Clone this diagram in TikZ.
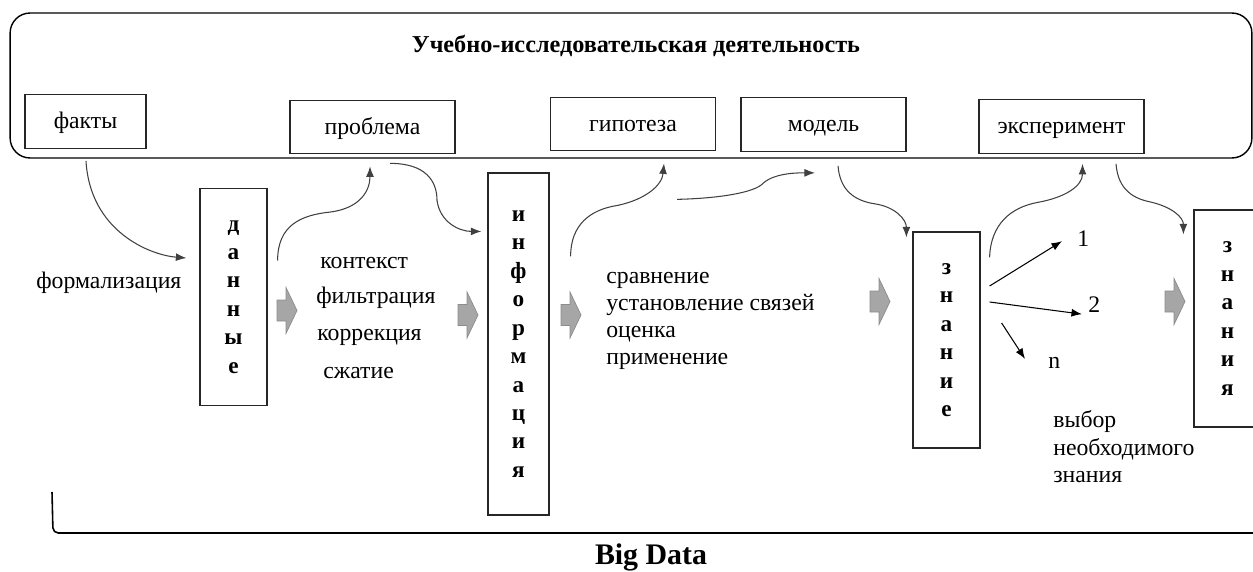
\documentclass[tikz,border=0pt]{standalone}
\usepackage{fontspec}
\setmainfont{Liberation Serif}
\usetikzlibrary{arrows.meta,calc}
\tikzset{
  ramka/.style   = {rectangle, draw=black!85, line width=0.7pt, minimum width=3.3cm, minimum height=1.07cm, text height=2ex, text depth=0.25ex, font=\fontsize{13.5}{16}\selectfont},
  stolb/.style   = {rectangle, draw=black!85, line width=0.7pt, minimum width=1.34cm, align=center, font=\bfseries\fontsize{13.2}{16.2}\selectfont},
  slovo/.style   = {anchor=base west, inner sep=0, font=\fontsize{13.5}{16}\selectfont},
  perehod/.pic   = {\filldraw[fill=black!35, draw=black!45, line width=0.4pt] (-10,-10.5) -- (-1,-10.5) -- (-1,-23) -- (10,0) -- (-1,23) -- (-1,10.5) -- (-10,10.5) -- cycle;},
  duga/.style    = {draw=black!75, line width=0.6pt, -{Latex[length=6pt,width=4.5pt]}},
  luch/.style    = {draw=black, line width=0.6pt, -{Latex[length=6pt,width=4.5pt]}}
}

\begin{document}
\begin{tikzpicture}[x=0.02cm, y=-0.02cm]
  \useasboundingbox (0,0) rectangle (1253,571);
  \node[draw, line width=0.8pt, rounded corners=0.4cm, minimum width=24.84cm, minimum height=2.9cm] (ud) at (631,85.5) {};
  \node[anchor=base, font=\bfseries\fontsize{13.8}{16}\selectfont] (zag) at (636,53) {Учебно-исследовательская деятельность};
  \node[ramka, minimum width=2.42cm] (fk) at (85.5,121.5) {факты};
  \node[ramka] (pr) at (372.5,127) {проблема};
  \node[ramka] (gp) at (633,124) {гипотеза};
  \node[ramka] (md) at (823.5,124.5) {модель};
  \node[ramka] (ek) at (1061.5,126.5) {эксперимент};

  \node[stolb, minimum height=4.34cm] (dn) at (233.5,297) {д\\а\\н\\н\\ы\\е};
  \node[stolb, minimum width=1.22cm, minimum height=6.84cm] (inf) at (518.5,344) {и\\н\\ф\\о\\р\\м\\а\\ц\\и\\я};
  \node[stolb, minimum height=4.32cm] (zn) at (946.5,340) {з\\н\\а\\н\\и\\е};
  \node[stolb, minimum height=4.34cm] (zns) at (1227.5,318.5) {з\\н\\а\\н\\и\\я};

  \pic (p1) at (287,310.5) {perehod};
  \pic (p2) at (468,315) {perehod};
  \pic (p3) at (571,315) {perehod};
  \pic (p4) at (880,301.5) {perehod};
  \pic (p5) at (1175,301.5) {perehod};

  \node[slovo] (fo) at (36,288) {формализация};
  \node[slovo] (ko) at (320,268) {контекст};
  \node[slovo] (fi) at (316,303) {фильтрация};
  \node[slovo] (kr) at (317,340) {коррекция};
  \node[slovo] (sz) at (323,378) {сжатие};
  \node[slovo] (sr) at (606,283) {сравнение};
  \node[slovo] (us) at (606,310) {установление связей};
  \node[slovo] (oc) at (606,337) {оценка};
  \node[slovo] (pm) at (606,364) {применение};
  \node[slovo] (n1) at (1077,246) {1};
  \node[slovo] (n2) at (1088,312) {2};
  \node[slovo] (nn) at (1048,368) {n};
  \node[slovo] (vb) at (1053,427) {выбор};
  \node[slovo] (ne) at (1053,455) {необходимого};
  \node[slovo] (zz) at (1053,482) {знания};

  \draw[duga] ($(fk.south)+(0.5,12)$) .. controls +(4,70) and +(-37,-3) .. ($(dn.west)+(-13,-39)$);
  \draw[duga] ($(dn.east)+(10,-36.5)$) .. controls +(0,-35) and +(-30,3) .. ++(53,-48.5) .. controls +(30,-4) and +(0,24) .. ($(pr.south)+(-2.5,12)$);
  \draw[duga] ($(pr.south)+(17.5,9)$) .. controls +(35,0) and +(0,-20) .. ++(47,37) .. controls +(3,22) and +(-22,0) .. ($(inf.north west)+(-6,59)$);
  \draw[duga] ($(inf.north east)+(21,84)$) .. controls +(0,-32) and +(-27,4) .. ++(47,-51) .. controls +(28,-6) and +(-2,22) .. ($(gp.south)+(31,12)$);
  \draw[duga] ($(gp.south)+(44,48)$) .. controls +(43,-1) and +(-8,9) .. ++(86,-16) .. controls +(12,-11) and +(-15,0) .. ($(md.south)+(-8.5,21)$);
  \draw[duga] ($(md.south)+(14.5,14)$) .. controls +(2,25) and +(-20,-3) .. ++(37,38) .. controls +(20,3) and +(0,-18) .. ($(zn.north west)+(-6,6)$);
  \draw[duga] ($(zn.north east)+(9,26)$) .. controls +(1,-33) and +(-27,5) .. ++(48,-55) .. controls +(28,-5) and +(0,22) .. ($(ek.south)+(21,10)$);
  \draw[duga] ($(ek.south)+(54.5,10)$) .. controls +(2,27) and +(-15,-3) .. ++(34,38) .. controls +(22,5) and +(0,-17) .. ($(zns.north west)+(-10,25)$);

  \draw[luch] ($(zn.east)+(9,-54)$) -- ($(n1.west)+(-15,3)$);
  \draw[luch] ($(zn.east)+(9,-38)$) -- ($(n2.west)+(-6,10)$);
  \draw[luch] ($(zn.east)+(21,-17)$) -- ($(nn.west)+(-23,-3.5)$);

  \draw[line width=0.9pt, rounded corners=3pt] (52,492) -- (53,533) -- (1260,533);
  \node[anchor=base, font=\bfseries\fontsize{17}{20}\selectfont] (bd) at (651,564) {Big Data};
\end{tikzpicture}
\end{document}
